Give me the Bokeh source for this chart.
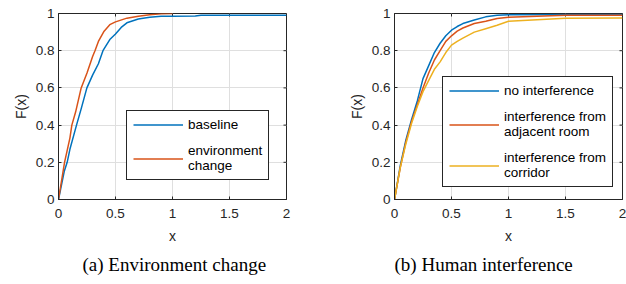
from bokeh.plotting import figure
from bokeh.models import (Range1d, FixedTicker, Legend, LegendItem,
                          NumeralTickFormatter, Title)
from bokeh.layouts import row
from bokeh.embed import file_html
from bokeh.resources import INLINE

# ---- data ----
x_ticks = [0, 0.5, 1, 1.5, 2]
y_ticks = [0, 0.2, 0.4, 0.6, 0.8, 1]

a_baseline_x = [0, 0.05, 0.076, 0.1, 0.158, 0.2, 0.249, 0.3, 0.35, 0.39, 0.45, 0.5, 0.55, 0.6, 0.7, 0.8, 0.9, 1.0, 1.2, 1.25, 2.0]
a_baseline_y = [0, 0.15, 0.2, 0.27, 0.4, 0.49, 0.6, 0.67, 0.73, 0.8, 0.86, 0.89, 0.925, 0.95, 0.97, 0.98, 0.985, 0.985, 0.986, 0.99, 0.99]
a_env_x = [0, 0.053, 0.1, 0.117, 0.15, 0.199, 0.25, 0.3, 0.32, 0.35, 0.4, 0.45, 0.5, 0.6, 0.7, 0.8, 0.9, 1.0]
a_env_y = [0, 0.2, 0.33, 0.4, 0.47, 0.6, 0.68, 0.77, 0.8, 0.85, 0.905, 0.94, 0.955, 0.975, 0.985, 0.993, 0.998, 1.0]

b_x = [0, 0.05, 0.1, 0.15, 0.2, 0.25, 0.3, 0.35, 0.4, 0.45, 0.5, 0.55, 0.6, 0.7, 0.8, 0.9, 1.0, 1.5, 2.0]
b_none_y = [0, 0.18, 0.32, 0.43, 0.53, 0.65, 0.72, 0.79, 0.84, 0.88, 0.91, 0.93, 0.946, 0.965, 0.982, 0.99, 0.993, 0.995, 0.995]
b_adjacent_y = [0, 0.17, 0.31, 0.42, 0.51, 0.6, 0.68, 0.75, 0.8, 0.85, 0.88, 0.905, 0.922, 0.946, 0.958, 0.973, 0.98, 0.99, 0.99]
b_corridor_y = [0, 0.17, 0.3, 0.41, 0.5, 0.58, 0.64, 0.7, 0.74, 0.79, 0.83, 0.85, 0.868, 0.9, 0.918, 0.937, 0.958, 0.975, 0.976]

BLUE = "#0072BD"
ORANGE = "#D95319"
YELLOW = "#EDB120"
AX = "#262626"
SANS = "Liberation Sans"
FW, FH = 228, 186
TICK = 3


def make_fig(border_left, border_right, caption, cap_offset):
    p = figure(frame_width=FW, frame_height=FH,
               min_border_left=border_left, min_border_right=border_right,
               min_border_top=13, min_border_bottom=60,
               x_range=Range1d(0, 2), y_range=Range1d(0, 1),
               output_backend="svg", toolbar_location=None,
               x_axis_label="x", y_axis_label="F(x)")
    p.outline_line_color = AX
    p.outline_line_width = 1
    p.outline_line_alpha = 1
    p.background_fill_color = "white"
    p.border_fill_color = "white"
    for ax in (p.xaxis[0], p.yaxis[0]):
        ax.axis_line_color = AX
        ax.major_tick_line_color = AX
        ax.major_tick_in = TICK
        ax.major_tick_out = 0
        ax.minor_tick_line_color = None
        ax.major_label_text_font = SANS
        ax.major_label_text_font_size = "13.5px"
        ax.major_label_text_color = AX
        ax.axis_label_text_font = SANS
        ax.axis_label_text_font_size = "14px"
        ax.axis_label_text_font_style = "normal"
        ax.axis_label_text_color = AX
        ax.formatter = NumeralTickFormatter(format="0.[0]")
    p.xaxis[0].ticker = FixedTicker(ticks=x_ticks)
    p.yaxis[0].ticker = FixedTicker(ticks=y_ticks)
    p.xaxis[0].major_label_standoff = 9
    p.xaxis[0].axis_label_standoff = 7
    p.yaxis[0].major_label_standoff = 4
    p.yaxis[0].axis_label_standoff = 4

    p.xgrid[0].ticker = FixedTicker(ticks=x_ticks)
    p.ygrid[0].ticker = FixedTicker(ticks=y_ticks)
    p.grid.grid_line_color = "#dfdfdf"
    p.grid.grid_line_width = 1

    # inward tick marks on the top and right edges of the box
    dy = TICK / FH
    dx = 2 * TICK / FW
    p.segment(x0=x_ticks, y0=[1] * len(x_ticks), x1=x_ticks, y1=[1 - dy] * len(x_ticks),
              line_color=AX, line_width=1)
    p.segment(x0=[2] * len(y_ticks), y0=y_ticks, x1=[2 - dx] * len(y_ticks), y1=y_ticks,
              line_color=AX, line_width=1)

    t = Title(text=caption, align="left", offset=cap_offset,
              text_font="Liberation Serif", text_font_size="19px",
              text_font_style="normal", text_color="black", standoff=10)
    p.add_layout(t, "below")
    return p


def style_legend(lg):
    lg.glyph_width = 50
    lg.glyph_height = 15
    lg.label_standoff = 5
    lg.padding = 6
    lg.spacing = 11
    lg.margin = 0
    lg.border_line_color = AX
    lg.border_line_width = 1
    lg.border_line_alpha = 1
    lg.background_fill_alpha = 1
    lg.label_text_font = SANS
    lg.label_text_font_size = "13.5px"
    lg.label_text_color = "black"


pa = make_fig(58, 50, "(a) Environment change", 24)
r1 = pa.line(a_baseline_x, a_baseline_y, line_color=BLUE, line_width=1.5, line_join="round")
r2 = pa.line(a_env_x, a_env_y, line_color=ORANGE, line_width=1.5, line_join="round")
lga = Legend(items=[LegendItem(label="baseline", renderers=[r1]),
                    LegendItem(label="environment\nchange", renderers=[r2])],
             location=(68, 19))
style_legend(lga)
pa.add_layout(lga)

pb = make_fig(58, 4, "(b) Human interference", 0)
s1 = pb.line(b_x, b_none_y, line_color=BLUE, line_width=1.5, line_join="round")
s2 = pb.line(b_x, b_adjacent_y, line_color=ORANGE, line_width=1.5, line_join="round")
s3 = pb.line(b_x, b_corridor_y, line_color=YELLOW, line_width=1.5, line_join="round")
lgb = Legend(items=[LegendItem(label="no interference", renderers=[s1]),
                    LegendItem(label="interference from\nadjacent room", renderers=[s2]),
                    LegendItem(label="interference from\ncorridor", renderers=[s3])],
             location=(48, 12))
style_legend(lgb)
pb.add_layout(lgb)

layout = row(pa, pb)
open("out.html", "w").write(file_html(layout, INLINE))
